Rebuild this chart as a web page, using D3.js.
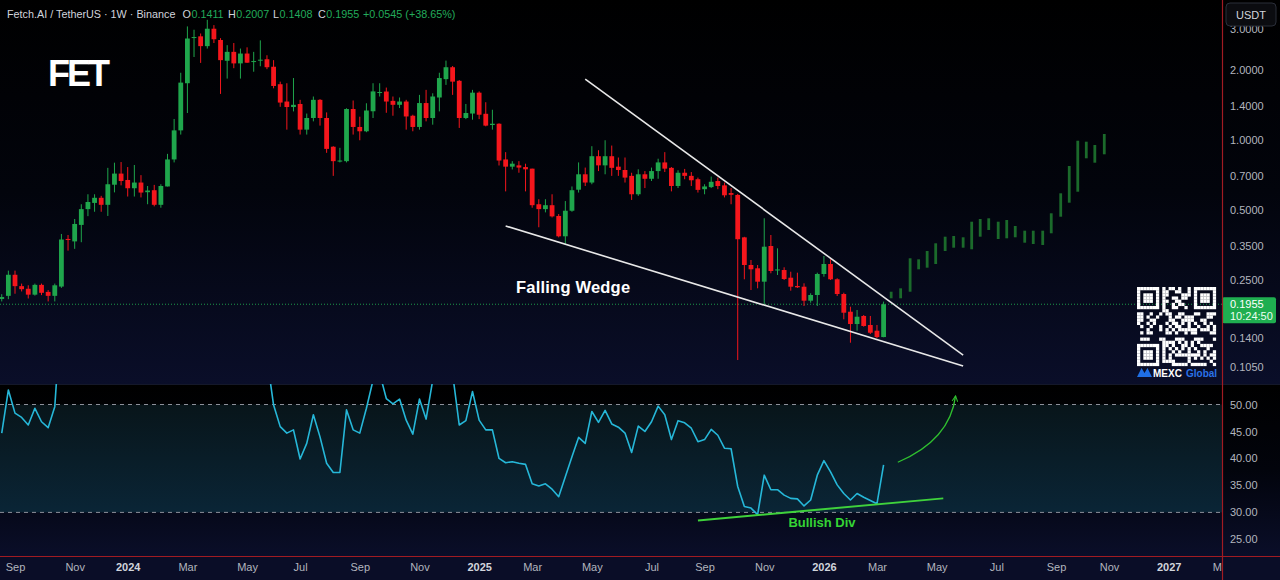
<!DOCTYPE html>
<html>
<head>
<meta charset="utf-8">
<script src="https://cdn.jsdelivr.net/npm/d3@7"></script>
<style>
html, body { margin: 0; padding: 0; background: #000; overflow: hidden; }
svg { display: block; font-family: "Liberation Sans", "Noto Sans", sans-serif; }
</style>
</head>
<body>
<svg id="chart" width="1280" height="580"></svg>
<script>
const W = 1280, H = 580
const PANE_RIGHT = 1222, PRICE_BOTTOM = 384, RSI_BOTTOM = 556

// weekly candles FET/USDT, first candle = week of 21 Aug 2023
const firstWeek = "2023-08-21"
const opens = [
  .206,.2125,.262,.234,.228,.215,.237,.221,.2125,.233,
  .374,.365,.430,.503,.535,.563,.525,.641,.716,.672,
  .619,.655,.595,.607,.525,.630,.824,1.10,1.757,2.76,
  2.80,2.54,3.02,2.70,2.196,2.40,2.14,2.36,2.17,2.20,
  2.23,2.07,1.74,1.465,1.387,1.43,1.108,1.244,1.49,1.244,
  .935,.81,.81,1.36,1.138,1.09,1.33,1.60,1.618,1.475,
  1.418,1.465,1.272,1.138,1.443,1.244,1.525,1.83,2.06,1.80,
  1.244,1.30,1.60,1.297,1.16,1.175,.824,.767,.777,.764,
  .752,.528,.503,.523,.47,.384,.495,.61,.711,.655,
  .851,.777,.851,.767,.742,.70,.583,.711,.68,.734,
  .80,.758,.633,.722,.70,.677,.613,.626,.665,.637,
  .59,.579,.380,.2887,.2794,.2446,.3487,.2734,.2747,.2545,
  .2343,.2327,.2025,.2143,.264,.2916,.2505,.2164,.1815,.1606,
  .174,.1591,.1503,.1411]
const highs = [
  .216,.273,.273,.240,.236,.240,.240,.225,.240,.393,
  .389,.456,.528,.583,.583,.574,.758,.798,.803,.764,
  .780,.705,.633,.640,.644,.871,1.232,1.95,3.09,2.99,
  2.88,3.30,3.13,2.75,2.565,2.62,2.48,2.51,2.40,2.69,
  2.32,2.21,1.785,1.757,1.85,1.49,1.30,1.54,1.50,1.315,
  .94,.925,1.37,1.48,1.26,1.44,1.757,1.757,1.683,1.54,
  1.525,1.49,1.285,1.565,1.645,1.59,1.95,2.20,2.085,1.815,
  1.43,1.645,1.62,1.455,1.35,1.18,.886,.81,.81,.79,
  .752,.555,.555,.583,.479,.545,.63,.80,.76,.94,
  .903,.997,.946,.84,.84,.722,.747,.734,.76,.83,
  .886,.764,.74,.75,.727,.688,.644,.695,.688,.655,
  .62,.585,.382,.3034,.2887,.4592,.389,.3408,.2822,.2701,
  .2675,.2407,.218,.2675,.3157,.3055,.253,.2193,.1908,.1846,
  .1757,.174,.1591,.2007]
const lows = [
  .201,.2055,.217,.222,.207,.213,.214,.201,.201,.230,
  .333,.339,.362,.469,.490,.490,.470,.594,.637,.570,
  .570,.565,.528,.517,.510,.630,.800,1.055,1.307,2.28,
  2.15,2.48,2.62,1.58,1.84,2.04,1.84,2.15,1.97,2.08,
  2.02,1.67,1.39,1.108,1.328,1.055,1.055,1.203,1.153,.88,
  .70,.80,.80,1.055,.997,1.08,1.244,1.54,1.31,1.272,
  1.373,1.108,1.09,1.108,1.203,1.164,1.328,1.728,1.565,1.127,
  1.23,1.223,1.23,1.145,1.108,.776,.60,.746,.722,.60,
  .51,.42,.487,.463,.38,.356,.49,.593,.633,.644,
  .734,.711,.70,.70,.655,.551,.574,.62,.665,.68,
  .727,.60,.62,.677,.633,.593,.583,.62,.613,.565,
  .528,.1123,.2505,.2252,.229,.196,.2659,.2614,.2487,.2237,
  .2297,.1921,.1985,.1921,.257,.2487,.2122,.1683,.1334,.1503,
  .1564,.1454,.1395,.1408]
const closes = [
  .210,.262,.234,.227,.215,.237,.219,.2125,.236,.372,
  .370,.434,.503,.540,.563,.525,.644,.716,.665,.619,
  .655,.593,.605,.525,.633,.824,1.100,1.768,2.74,2.78,
  2.54,3.02,2.72,2.21,2.40,2.14,2.36,2.155,2.19,2.22,
  2.06,1.71,1.45,1.387,1.418,1.108,1.244,1.49,1.244,.915,
  .81,.815,1.36,1.138,1.09,1.34,1.62,1.61,1.465,1.418,
  1.465,1.263,1.138,1.443,1.244,1.54,1.85,2.06,1.785,1.244,
  1.307,1.60,1.285,1.153,1.175,.815,.767,.79,.76,.747,
  .523,.503,.523,.468,.384,.495,.607,.711,.655,.851,
  .777,.851,.758,.742,.688,.583,.711,.68,.734,.80,
  .752,.633,.722,.70,.67,.609,.63,.66,.633,.577,
  .58,.373,.2887,.2766,.2446,.3463,.272,.2762,.2512,.2327,
  .2313,.2025,.2143,.264,.2916,.2505,.2164,.1797,.1606,.1727,
  .1575,.1473,.1411,.1955]
// RSI(14), same weeks as the candles
const rsi = [
  44.7,52.7,48.4,47.6,46.2,49.3,46.8,45.7,49.6,68,
  66,72,76,78,79,76,80,82,79,75,
  76,72,72,68,70,78,85,90,92,91,
  88,89,84,78,79,76,77,74,73,68,
  58.6,49.9,45.9,44.7,45.3,39.9,42.8,48.1,44.0,39.1,
  37.4,37.4,49.0,45.3,44.7,49.3,54.5,55.8,51.1,50.1,
  51.0,47.1,44.5,51.0,47.3,54.5,59,62,55.7,46.2,
  47.0,52.4,47.1,45.3,45.3,40.0,39.2,39.4,39.1,38.9,
  35.3,34.9,35.3,34.3,32.9,36.6,40.3,43.9,42.8,48.7,
  46.7,48.9,46.4,45.8,44.7,41.1,46.0,45.0,46.8,49.7,
  48.1,43.5,47.0,46.6,45.6,43.1,43.5,45.4,44.3,41.9,
  41.8,34.8,31.1,30.8,29.6,36.9,34.2,34.2,33.2,32.6,
  32.5,31.2,32.3,36.9,39.6,37.5,35.1,33.5,32.3,33.5,
  32.8,32.2,31.6,38.8]

// projected bars (bars pattern) after the breakout
const ghostDates = ["2026-03-17","2026-03-27","2026-04-06","2026-04-15","2026-04-24","2026-05-03",
  "2026-05-13","2026-05-22","2026-06-01","2026-06-10","2026-06-19","2026-06-28","2026-07-08",
  "2026-07-17","2026-07-26","2026-08-05","2026-08-14","2026-08-24","2026-09-02","2026-09-12",
  "2026-09-21","2026-09-30","2026-10-09","2026-10-18","2026-10-28"]
const ghostHigh = [.2214,.229,.3086,.3055,.3318,.3582,.3825,.3851,.3802,.4439,.456,.4592,.4439,
  .4515,.4254,.406,.406,.406,.4826,.5886,.772,.9926,.9829,.9511,1.061]
const ghostLow = [.2074,.2074,.2214,.2766,.2811,.2916,.3318,.3429,.3429,.3375,.3825,.4088,.3738,
  .3764,.3802,.3603,.3557,.3522,.3956,.4665,.5362,.598,.8334,.7978,.8672]

// falling wedge
const wedgeUpper = [["2025-04-28", 1.832], ["2026-06-01", 0.118]]
const wedgeLower = [["2025-02-03", 0.4254], ["2026-06-01", 0.1058]]
const divLine = [["2025-08-25", 28.5], ["2026-05-11", 32.6]]
const arrowPts = [["2026-03-24", 39.3], ["2026-05-18", 43.4], ["2026-05-24", 51.6]]

const priceTicks = [3, 2, 1.4, 1, 0.7, 0.5, 0.35, 0.25, 0.14, 0.105]
const rsiTicks = [50, 45, 40, 35, 30, 25]
const timeTicks = ["2023-09-04","2023-11-06","2024-01-01","2024-03-04","2024-05-06","2024-07-01",
  "2024-09-02","2024-11-04","2025-01-06","2025-03-03","2025-05-05","2025-07-07","2025-09-01",
  "2025-11-03","2026-01-05","2026-03-02","2026-05-04","2026-07-06","2026-09-07","2026-11-02",
  "2027-01-04","2027-03-01"]

const UP = "#1fa64c", DOWN = "#f5161c", GHOST = "#1b6a2b"
const parse = d3.utcParse("%Y-%m-%d")

const x = d3.scaleUtc().domain([parse("2023-09-04"), parse("2027-01-04")]).range([15, 1168.7])
const y = d3.scaleLog().domain([2.0, 0.105]).range([70.2, 366.8])
const yr = d3.scaleLinear().domain([50, 30]).range([404.5, 512.4])

const start = parse(firstWeek)
const candles = opens.map((o, i) => ({
  date: d3.utcDay.offset(start, 7 * i), o, h: highs[i], l: lows[i], c: closes[i], rsi: rsi[i]
}))

const svg = d3.select("#chart")
const defs = svg.append("defs")

function vGrad(id, stops) {
  const g = defs.append("linearGradient").attr("id", id)
    .attr("x1", 0).attr("y1", 0).attr("x2", 0).attr("y2", 1)
  stops.forEach(([o, c]) => g.append("stop").attr("offset", o).attr("stop-color", c))
}
vGrad("paneBg", [[0, "#000000"], [0.5, "#02040c"], [1, "#0a0e29"]])
vGrad("bandBg", [[0, "#08151a"], [1, "#0a2536"]])

defs.append("clipPath").attr("id", "priceClip")
  .append("rect").attr("width", PANE_RIGHT).attr("height", PRICE_BOTTOM)
defs.append("clipPath").attr("id", "rsiClip")
  .append("rect").attr("y", PRICE_BOTTOM).attr("width", PANE_RIGHT).attr("height", RSI_BOTTOM - PRICE_BOTTOM)
defs.append("clipPath").attr("id", "timeClip")
  .append("rect").attr("y", RSI_BOTTOM).attr("width", PANE_RIGHT).attr("height", H - RSI_BOTTOM)

// arrow head for the green curve
defs.append("marker").attr("id", "arrowHead")
  .attr("viewBox", "0 0 10 10").attr("refX", 9).attr("refY", 5)
  .attr("markerWidth", 7).attr("markerHeight", 7).attr("markerUnits", "userSpaceOnUse")
  .attr("orient", "auto")
  .append("path").attr("d", "M1,1 L9,5 L1,9")
  .attr("fill", "none").attr("stroke", "#2fbf2f").attr("stroke-width", 1.4)

// backgrounds
svg.append("rect").attr("width", W).attr("height", PRICE_BOTTOM).attr("fill", "url(#paneBg)")
svg.append("rect").attr("y", PRICE_BOTTOM).attr("width", W).attr("height", RSI_BOTTOM - PRICE_BOTTOM)
  .attr("fill", "url(#paneBg)")
svg.append("rect").attr("y", RSI_BOTTOM).attr("width", W).attr("height", H - RSI_BOTTOM).attr("fill", "#0a0d27")
svg.append("line").attr("x1", 0).attr("x2", W).attr("y1", PRICE_BOTTOM + 0.5).attr("y2", PRICE_BOTTOM + 0.5)
  .attr("stroke", "#14182a")

// ---- price pane ----
const pricePane = svg.append("g").attr("clip-path", "url(#priceClip)")

// last price line
const lastC = closes[closes.length - 1]
pricePane.append("line")
  .attr("x1", 0).attr("x2", PANE_RIGHT).attr("y1", y(lastC)).attr("y2", y(lastC))
  .attr("stroke", "#1d9a4b").attr("stroke-dasharray", "1,2").attr("stroke-width", 1)

const candleG = pricePane.selectAll("g.candle").data(candles).join("g").attr("class", "candle")
candleG.append("line")
  .attr("x1", d => x(d.date)).attr("x2", d => x(d.date))
  .attr("y1", d => y(d.h)).attr("y2", d => y(d.l))
  .attr("stroke", d => d.c >= d.o ? UP : DOWN).attr("stroke-width", 1)
candleG.append("rect")
  .attr("x", d => x(d.date) - 2.4).attr("width", 4.8)
  .attr("y", d => y(Math.max(d.o, d.c)))
  .attr("height", d => Math.max(1, Math.abs(y(d.o) - y(d.c))))
  .attr("fill", d => d.c >= d.o ? UP : DOWN)

pricePane.selectAll("rect.ghost").data(ghostDates).join("rect").attr("class", "ghost")
  .attr("x", d => x(parse(d)) - 1.4).attr("width", 2.8)
  .attr("y", (d, i) => y(ghostHigh[i]))
  .attr("height", (d, i) => y(ghostLow[i]) - y(ghostHigh[i]))
  .attr("fill", GHOST)

const priceLine = d3.line().x(d => x(parse(d[0]))).y(d => y(d[1]))
pricePane.append("path").attr("d", priceLine(wedgeUpper))
  .attr("stroke", "#e8e8e8").attr("stroke-width", 1.6).attr("fill", "none")
pricePane.append("path").attr("d", priceLine(wedgeLower))
  .attr("stroke", "#e8e8e8").attr("stroke-width", 1.6).attr("fill", "none")

pricePane.append("text").attr("x", x(parse("2025-02-14"))).attr("y", y(0.232))
  .attr("dy", "0.35em").attr("fill", "#ffffff").attr("font-size", 16.5).attr("font-weight", "bold")
  .attr("textLength", 114).text("Falling Wedge")

// ---- RSI pane ----
const rsiPane = svg.append("g").attr("clip-path", "url(#rsiClip)")
rsiPane.append("rect").attr("x", 0).attr("width", PANE_RIGHT)
  .attr("y", yr(50)).attr("height", yr(30) - yr(50)).attr("fill", "url(#bandBg)")
;[50, 30].forEach(v => rsiPane.append("line")
  .attr("x1", 0).attr("x2", PANE_RIGHT).attr("y1", yr(v)).attr("y2", yr(v))
  .attr("stroke", "#8d909a").attr("stroke-dasharray", "4,4").attr("stroke-width", 1))

rsiPane.append("path")
  .attr("d", d3.line().x(d => x(d.date)).y(d => yr(d.rsi))(candles))
  .attr("fill", "none").attr("stroke", "#26b7d8").attr("stroke-width", 1.6)
  .attr("stroke-linejoin", "round")

const rsiLine = d3.line().x(d => x(parse(d[0]))).y(d => yr(d[1]))
rsiPane.append("path").attr("d", rsiLine(divLine))
  .attr("stroke", "#3fd23c").attr("stroke-width", 2).attr("fill", "none")
rsiPane.append("text").attr("x", x(parse("2026-01-03"))).attr("y", yr(28.2))
  .attr("dy", "0.35em").attr("text-anchor", "middle")
  .attr("fill", "#35d435").attr("font-size", 13).attr("font-weight", "bold").text("Bullish Div")

const [a0, a1, a2] = arrowPts.map(p => [x(parse(p[0])), yr(p[1])])
const arrowPath = d3.path()
arrowPath.moveTo(a0[0], a0[1])
arrowPath.quadraticCurveTo(a1[0], a1[1], a2[0], a2[1])
rsiPane.append("path").attr("d", arrowPath.toString())
  .attr("fill", "none").attr("stroke", "#2fbf2f").attr("stroke-width", 1.3)
  .attr("marker-end", "url(#arrowHead)")

// ---- axes ----
const axisText = sel => sel.selectAll("text")
  .attr("fill", "#b2b5be").attr("font-size", 11).attr("font-family", "Liberation Sans, Noto Sans, sans-serif")

svg.append("g").attr("transform", `translate(${PANE_RIGHT},0)`)
  .call(d3.axisRight(y).tickValues(priceTicks).tickFormat(d3.format(".4f")).tickSize(0).tickPadding(8))
  .call(g => g.select(".domain").remove())
  .call(axisText)

svg.append("g").attr("transform", `translate(${PANE_RIGHT},0)`)
  .call(d3.axisRight(yr).tickValues(rsiTicks).tickFormat(d3.format(".2f")).tickSize(0).tickPadding(8))
  .call(g => g.select(".domain").remove())
  .call(axisText)

const fmtMonth = d3.utcFormat("%b"), fmtYear = d3.utcFormat("%Y")
svg.append("g").attr("clip-path", "url(#timeClip)")
  .append("g").attr("transform", `translate(0,${RSI_BOTTOM})`)
  .call(d3.axisBottom(x).tickValues(timeTicks.map(parse))
    .tickFormat(d => d.getUTCMonth() === 0 ? fmtYear(d) : fmtMonth(d)).tickSize(0).tickPadding(7))
  .call(g => g.select(".domain").remove())
  .call(axisText)
  .call(g => g.selectAll("text").filter(d => d.getUTCMonth() === 0)
    .attr("font-weight", "bold").attr("fill", "#d1d4dc"))

// last price badge
const badge = svg.append("g").attr("transform", `translate(${PANE_RIGHT},${y(lastC) - 7})`)
badge.append("rect").attr("width", 54).attr("height", 26).attr("rx", 2).attr("fill", "#1fae50")
badge.append("text").attr("x", 8).attr("y", 11).attr("fill", "#fff").attr("font-size", 11).text("0.1955")
badge.append("text").attr("x", 8).attr("y", 23).attr("fill", "#eafff0").attr("font-size", 11).text("10:24:50")

// currency box
svg.append("rect").attr("x", 1226).attr("y", 3).attr("width", 50).attr("height", 23).attr("rx", 4)
  .attr("fill", "#0b0c10").attr("stroke", "#2a2e39")
svg.append("text").attr("x", 1251).attr("y", 18.5).attr("text-anchor", "middle")
  .attr("fill", "#d1d4dc").attr("font-size", 11).text("USDT")

// pane borders (red)
svg.append("line").attr("x1", PANE_RIGHT + 0.5).attr("x2", PANE_RIGHT + 0.5).attr("y1", 0).attr("y2", H)
  .attr("stroke", "#a11b22").attr("stroke-width", 1.2)
svg.append("line").attr("x1", 0).attr("x2", W).attr("y1", RSI_BOTTOM + 0.5).attr("y2", RSI_BOTTOM + 0.5)
  .attr("stroke", "#a11b22").attr("stroke-width", 1.2)

// header: symbol and OHLC of the last bar, one text line
const head = svg.append("text").attr("y", 18).attr("font-size", 10.8).attr("fill", "#d1d4dc")
head.append("tspan").attr("x", 7).text("Fetch.AI / TetherUS · 1W · Binance")
const ohlc = [["O", "0.1411", 182.5], ["H", "0.2007", 228], ["L", "0.1408", 273], ["C", "0.1955", 318]]
ohlc.forEach(([k, v, kx]) => {
  head.append("tspan").attr("x", kx).text(k)
  head.append("tspan").attr("dx", 0.5).attr("fill", "#22ab5b").text(v)
})
head.append("tspan").attr("x", 363).attr("fill", "#22ab5b").text("+0.0545 (+38.65%)")

svg.append("text").attr("x", 48).attr("y", 86).attr("fill", "#ffffff")
  .attr("font-size", 36).attr("font-weight", 600).attr("textLength", 62).text("FET")

// watermark QR + MEXC logo
const QN = 25, qs = 3.16
const qr = svg.append("g").attr("transform", "translate(1137,287)")
function finder(r, c) {
  for (const [r0, c0] of [[0, 0], [0, QN - 7], [QN - 7, 0]]) {
    const rr = r - r0, cc = c - c0
    if (rr >= -1 && rr <= 7 && cc >= -1 && cc <= 7) {
      if (rr < 0 || rr > 6 || cc < 0 || cc > 6) return 0
      return (rr === 0 || rr === 6 || cc === 0 || cc === 6 || (rr >= 2 && rr <= 4 && cc >= 2 && cc <= 4)) ? 1 : 0
    }
  }
  return -1
}
const cells = []
for (let r = 0; r < QN; r++) for (let c = 0; c < QN; c++) {
  const f = finder(r, c)
  const on = f >= 0 ? f === 1 : ((r * 31 + c * 17 + r * c * 7 + (r ^ c)) % 11) < 5
  if (on) cells.push([r, c])
}
qr.selectAll("rect").data(cells).join("rect")
  .attr("x", d => d[1] * qs).attr("y", d => d[0] * qs)
  .attr("width", qs + 0.1).attr("height", qs + 0.1).attr("fill", "#ffffff")
svg.append("path").attr("d", "M1137,377 L1141.5,368 L1144.5,373 L1147.5,368 L1152,377 Z").attr("fill", "#1f6fe5")
svg.append("text").attr("x", 1153).attr("y", 376.5).attr("fill", "#ffffff")
  .attr("font-size", 10).attr("font-weight", "bold").text("MEXC")
svg.append("text").attr("x", 1186).attr("y", 376.5).attr("fill", "#2a72e8")
  .attr("font-size", 10).attr("font-weight", "bold").text("Global")
</script>
</body>
</html>
